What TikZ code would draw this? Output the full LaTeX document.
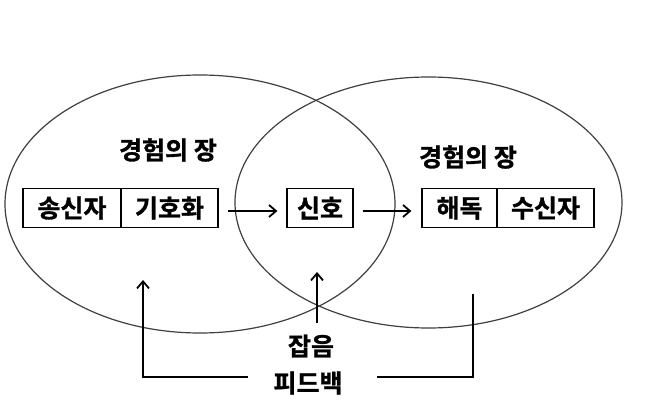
\documentclass[tikz,border=0pt]{standalone}
\usepackage{fontspec}
\setmainfont{Noto Sans CJK KR}[BoldFont={Noto Sans CJK KR Bold}, BoldFeatures={FakeBold=1.2}]
\usetikzlibrary{arrows.meta}
\tikzset{
  ell/.style={draw=black!75, line width=1.2pt},
  box/.style={draw=black, line width=1.2pt, minimum height=38.5pt, inner sep=0pt, font=\fontsize{25}{28}\selectfont\bfseries},
  lbl/.style={inner sep=0pt, font=\fontsize{25}{28}\selectfont\bfseries},
  arr/.style={line width=1.8pt, -{Straight Barb[length=7pt,width=12pt,line width=1.8pt]}},
  ln/.style={line width=1.8pt}
}
\begin{document}
\begin{tikzpicture}[x=1pt,y=-1pt]
\useasboundingbox[fill=white] (0,0) rectangle (662,415);
\draw[ell] (200,204) ellipse [x radius=195pt, y radius=129pt];
\draw[ell] (428.5,202.5) ellipse [x radius=193.5pt, y radius=125.5pt];
\node[lbl] (exL) at (168,150) {경험의 장};
\node[lbl] (exR) at (468,157) {경험의 장};
\node[box, minimum width=98pt] (snd) at (72,208) {송신자};
\node[box, minimum width=97pt] (enc) at (169.5,208) {기호화};
\node[box, minimum width=66pt] (sig) at (320,208) {신호};
\node[box, minimum width=75pt] (dec) at (459.5,208) {해독};
\node[box, minimum width=97pt] (rcv) at (545.5,208) {수신자};
\node[lbl] (noise) at (311,346) {잡음};
\node[lbl] (fb) at (308,383) {피드백};
\coordinate (nzb) at (317,323);
\coordinate (nzt) at (317,272);
\coordinate (fbLb) at (248,377);
\coordinate (fbLt) at (143,280);
\coordinate (fbRb) at (377,377);
\coordinate (fbRt) at (473,294);
\draw[arr, shorten <=9pt, shorten >=9pt] ([yshift=-3pt]enc.east) -- ([yshift=-3pt]sig.west);
\draw[arr, shorten <=9pt, shorten >=10pt] ([yshift=-3pt]sig.east) -- ([yshift=-3pt]dec.west);
\draw[arr] (nzb) -- (nzt);
\draw[arr] (fbLb) -| (fbLt);
\draw[ln] (fbRb) -| (fbRt);
\end{tikzpicture}
\end{document}
